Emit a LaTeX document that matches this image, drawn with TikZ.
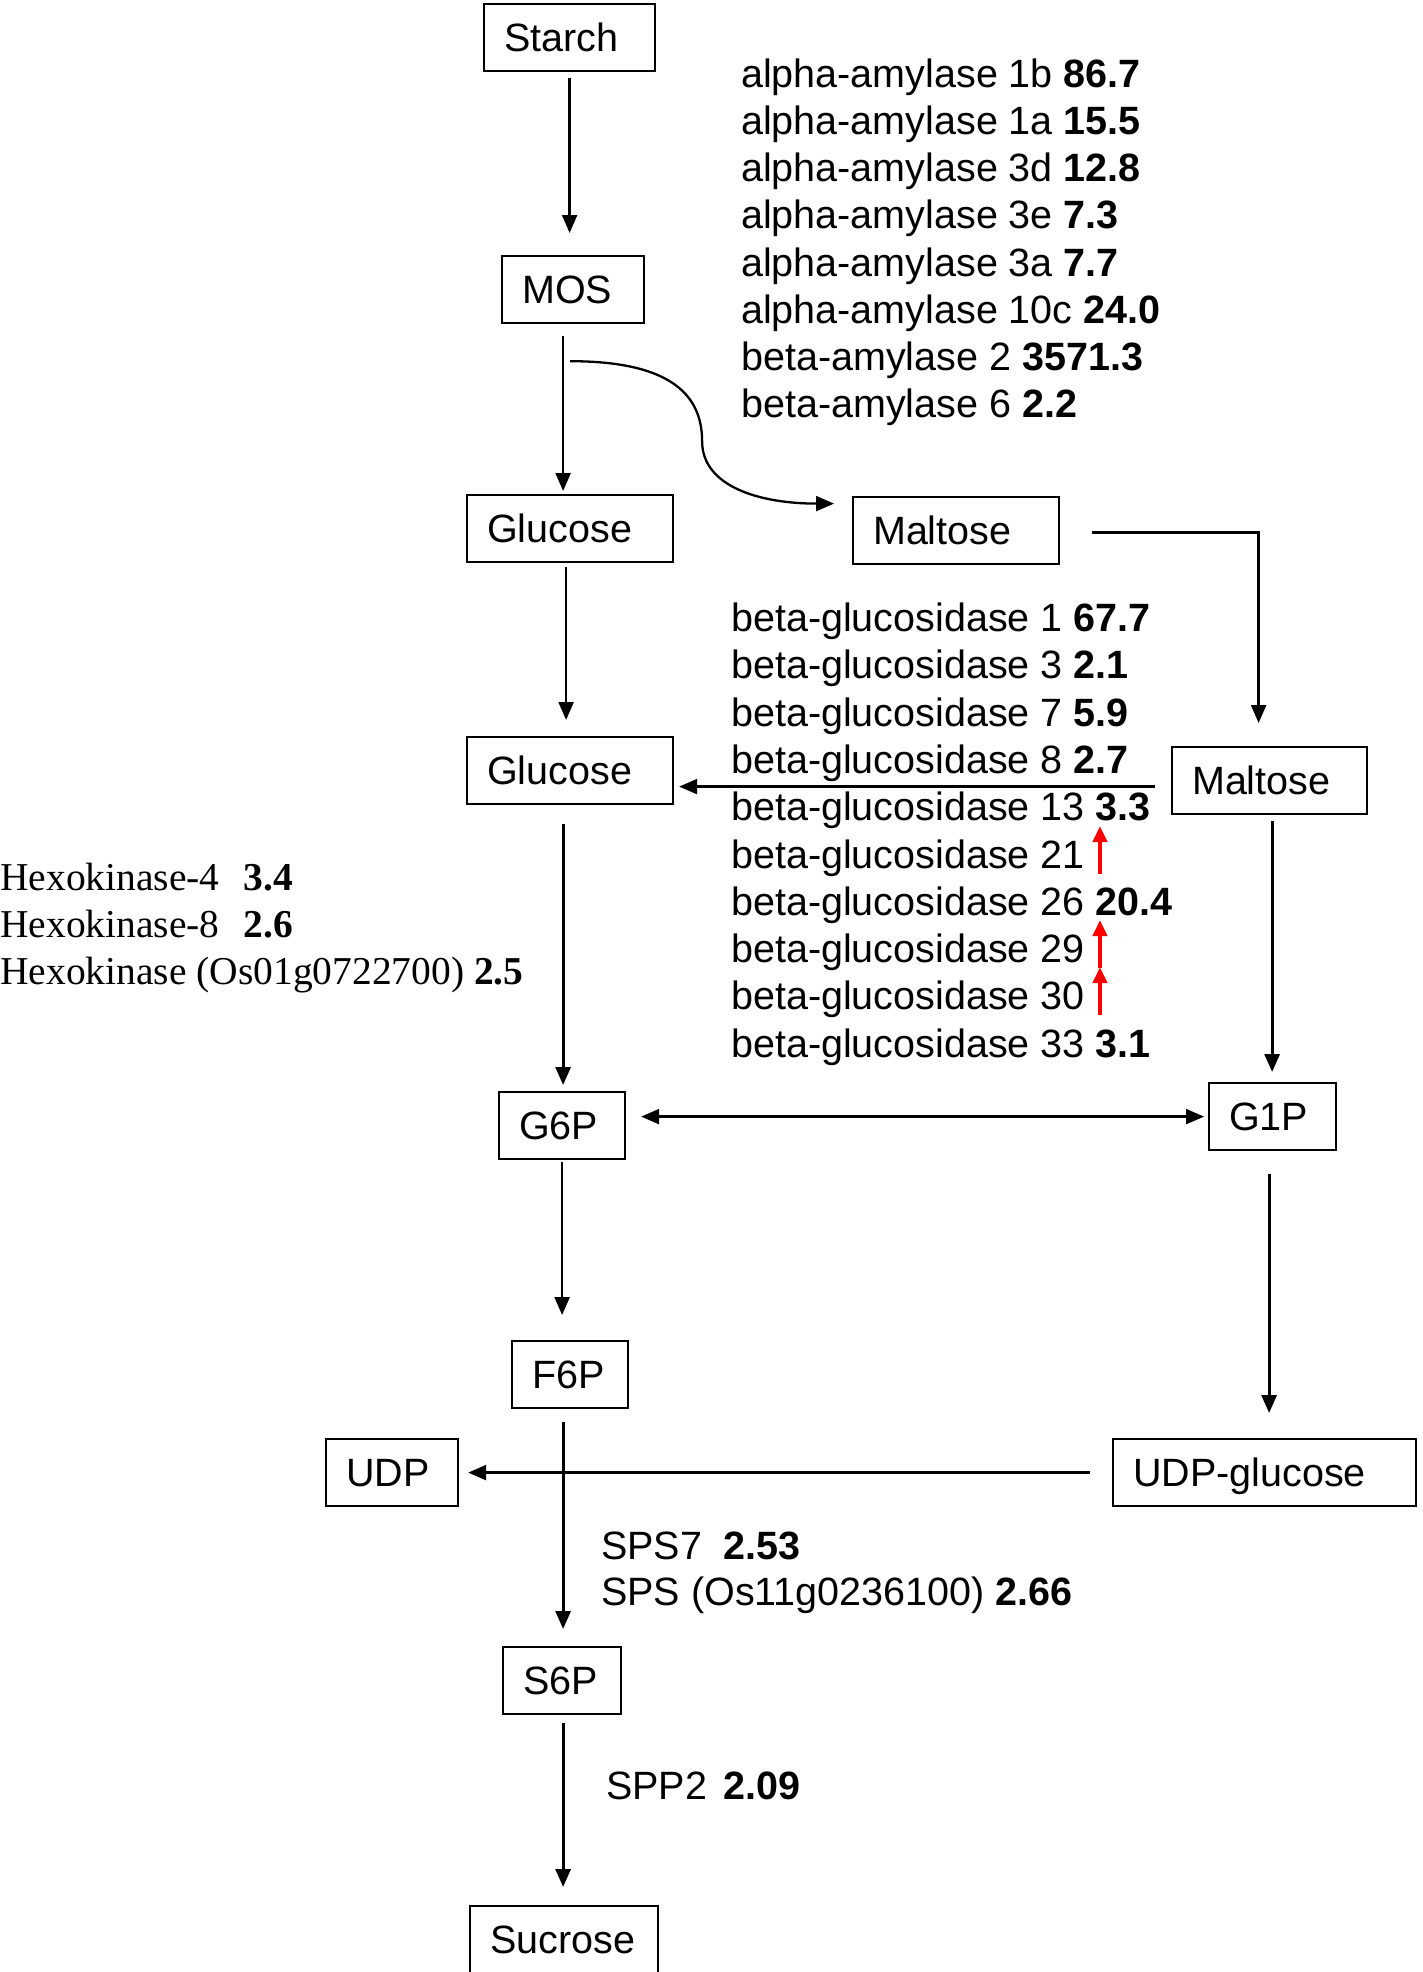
\documentclass[tikz,border=0pt]{standalone}
\usepackage{fontspec}
\setmainfont{Liberation Sans}
\newfontfamily\timesf{Liberation Serif}
\usetikzlibrary{arrows.meta,calc}
\newcommand\bigf{\fontsize{39.5pt}{47pt}\selectfont}
\begin{document}
\begin{tikzpicture}[x=1pt,y=-1pt,
 box/.style={draw, line width=2.2pt, anchor=north west, inner xsep=20pt, inner ysep=0pt, align=left, text height=28.3pt, text depth=0pt, minimum height=67pt, font=\bigf},
 lbl/.style={anchor=base west, inner sep=0pt, font=\bigf},
 arr/.style={line width=2.3pt, -{Triangle[length=18pt,width=15pt]}},
 thk/.style={line width=3pt},
 redarr/.style={draw=red, line width=4.2pt, -{Triangle[length=16pt,width=14pt]}}]
\useasboundingbox (0,0) rectangle (1423,1972);

% boxes
\node[box, text width=131pt] (starch) at (483,3) {Starch};
\node[box, text width=102pt] (mos) at (501,255) {MOS};
\node[box, text width=166pt] (glc1) at (466,494) {Glucose};
\node[box, text width=166pt] (mal1) at (852,496) {Maltose};
\node[box, text width=166pt] (glc2) at (466,736) {Glucose};
\node[box, text width=155pt] (mal2) at (1171,746) {Maltose};
\node[box, text width=86pt] (g6p) at (498,1091) {G6P};
\node[box, text width=87pt] (g1p) at (1208,1082) {G1P};
\node[box, text width=76pt] (f6p) at (511,1340) {F6P};
\node[box, text width=92pt] (udp) at (325,1438) {UDP};
\node[box, text width=263pt] (udpg) at (1112,1438) {UDP-glucose};
\node[box, text width=78pt] (s6p) at (502,1646) {S6P};
\node[box, text width=148pt] (suc) at (469,1905) {Sucrose};

% alpha / beta amylase labels
\node[lbl] (a1) at (741,88) {alpha-amylase 1b \textbf{86.7}};
\node[lbl] (a2) at (741,135) {alpha-amylase 1a \textbf{15.5}};
\node[lbl] (a3) at (741,182) {alpha-amylase 3d \textbf{12.8}};
\node[lbl] (a4) at (741,229) {alpha-amylase 3e \textbf{7.3}};
\node[lbl] (a5) at (741,276) {alpha-amylase 3a \textbf{7.7}};
\node[lbl] (a6) at (741,323) {alpha-amylase 10c \textbf{24.0}};
\node[lbl] (a7) at (741,370) {beta-amylase 2 \textbf{3571.3}};
\node[lbl] (a8) at (741,417) {beta-amylase 6 \textbf{2.2}};

% beta-glucosidase labels
\node[lbl] (b1) at (731,631) {beta-glucosidase 1 \textbf{67.7}};
\node[lbl] (b3) at (731,678) {beta-glucosidase 3 \textbf{2.1}};
\node[lbl] (b7) at (731,726) {beta-glucosidase 7 \textbf{5.9}};
\node[lbl] (b8) at (731,773) {beta-glucosidase 8 \textbf{2.7}};
\node[lbl] (b13) at (731,820) {beta-glucosidase 13 \textbf{3.3}};
\node[lbl] (b21) at (731,868) {beta-glucosidase 21};
\node[lbl] (b26) at (731,915) {beta-glucosidase 26 \textbf{20.4}};
\node[lbl] (b29) at (731,962) {beta-glucosidase 29};
\node[lbl] (b30) at (731,1009) {beta-glucosidase 30};
\node[lbl] (b33) at (731,1057) {beta-glucosidase 33 \textbf{3.1}};
\foreach \n in {b21,b29,b30}
  \draw[redarr] ([xshift=15pt,yshift=-6pt]\n.base east) -- ([xshift=15pt,yshift=42pt]\n.base east);

% hexokinase labels
\node[lbl, font=\bigf\timesf] (h1) at (0,890) {Hexokinase-4\hspace{24pt}\textbf{3.4}};
\node[lbl, font=\bigf\timesf] (h2) at (0,937) {Hexokinase-8\hspace{24pt}\textbf{2.6}};
\node[lbl, font=\bigf\timesf] (h3) at (0,984) {Hexokinase (Os01g0722700) \textbf{2.5}};

% SPS / SPP labels
\node[lbl] (sps1) at (601,1559) {SPS7\hspace{21pt}\textbf{2.53}};
\node[lbl] (sps2) at (601,1605) {SPS (Os11g0236100) \textbf{2.66}};
\node[lbl] (spp) at (606,1799) {SPP2\hspace{16pt}\textbf{2.09}};

% connectors
\draw[arr, shorten <=6pt, shorten >=22pt] (starch.south) -- (starch.south |- mos.north);

\coordinate (c2) at ([xshift=-10pt,yshift=-12pt]mos.south);
\draw[arr, shorten >=3pt] (c2) -- (c2 |- glc1.north);

\coordinate (c3) at ([xshift=-3pt,yshift=-37pt]mos.south);
\coordinate (c3v) at ([xshift=129pt,yshift=-117pt]mos.south);
\coordinate (c3e) at ([xshift=-18pt,yshift=27pt]mal1.west);
\draw[arr] (c3) .. controls +(95,0) and +(0,-50) .. (c3v) .. controls +(0,45) and +(-75,0) .. (c3e);

\coordinate (c4) at ([xshift=32pt,yshift=-2pt]mal1.east);
\coordinate (c4e) at ([xshift=-11pt]mal2.north);
\draw[arr, shorten >=23pt] (c4) -| (c4e);

\coordinate (c5) at ([xshift=-4pt,yshift=-4pt]glc1.south);
\draw[arr, shorten >=16pt] (c5) -- (c5 |- glc2.north);

\coordinate (c6) at ([xshift=-16pt,yshift=-6pt]mal2.west);
\draw[arr, shorten >=5pt] (c6) -- (c6 -| glc2.east);

\coordinate (c7) at ([xshift=-7pt,yshift=-19pt]glc2.south);
\draw[arr, thk, shorten >=6pt] (c7) -- (c7 |- g6p.north);

\coordinate (c8) at ([xshift=2.5pt,yshift=-6pt]mal2.south);
\draw[arr, thk, shorten >=10pt] (c8) -- (c8 |- g1p.north);

\draw[line width=2.3pt, {Triangle[length=18pt,width=15pt]}-{Triangle[length=18pt,width=15pt]}, shorten <=15pt, shorten >=4pt] (g1p.west -| g6p.east) -- (g1p.west);

\coordinate (c10) at ([yshift=-2pt]g6p.south);
\draw[arr, shorten >=25pt] (c10) -- (c10 |- f6p.north);

\coordinate (c11) at ([xshift=-3.5pt,yshift=-23pt]g1p.south);
\draw[arr, thk, shorten >=25pt] (c11) -- (c11 |- udpg.north);

\coordinate (c12) at ([xshift=-22pt]udpg.west);
\draw[arr, shorten >=9pt] (c12) -- (c12 -| udp.east);

\coordinate (c13) at ([xshift=-7pt,yshift=-13pt]f6p.south);
\draw[arr, thk, shorten >=17pt] (c13) -- (c13 |- s6p.north);

\coordinate (c14) at ([xshift=1pt,yshift=-8pt]s6p.south);
\draw[arr, thk, shorten >=18pt] (c14) -- (c14 |- suc.north);
\end{tikzpicture}
\end{document}
